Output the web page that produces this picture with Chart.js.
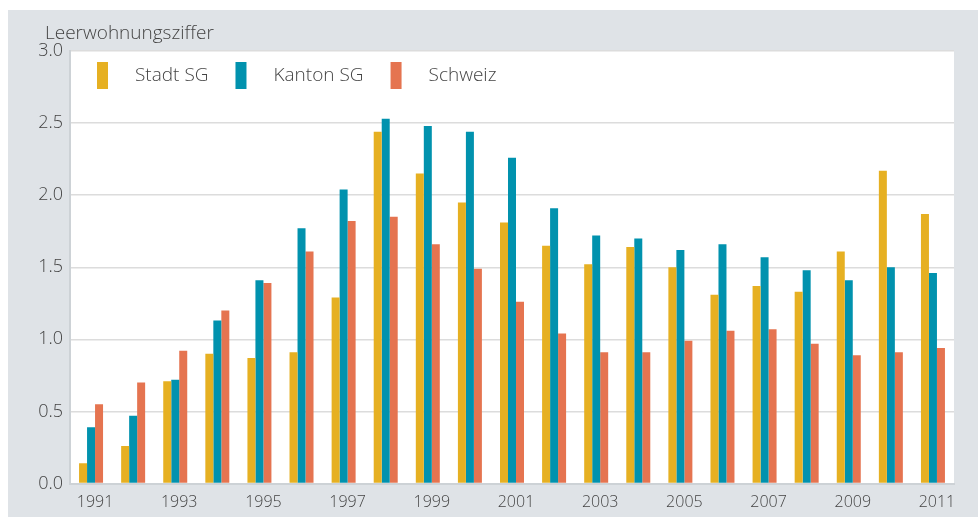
<!DOCTYPE html>
<html>
<head>
<meta charset="utf-8">
<script src="https://cdn.jsdelivr.net/npm/chart.js@4/dist/chart.umd.min.js"></script>
<style>
  html, body { margin: 0; padding: 0; background: #fff; }
  #wrap { position: absolute; left: 8px; top: 10px; width: 970px; height: 507px; background: #dfe3e7; }
</style>
</head>
<body>
<div id="wrap"><canvas id="c" width="970" height="507"></canvas></div>
<script>
// Leerwohnungsziffer 1991-2011
const years = ['1991','1992','1993','1994','1995','1996','1997','1998','1999','2000',
               '2001','2002','2003','2004','2005','2006','2007','2008','2009','2010','2011'];
const stadtSG  = [0.14, 0.26, 0.71, 0.90, 0.87, 0.91, 1.29, 2.44, 2.15, 1.95,
                  1.81, 1.65, 1.52, 1.64, 1.50, 1.31, 1.37, 1.33, 1.61, 2.17, 1.87];
const kantonSG = [0.39, 0.47, 0.72, 1.13, 1.41, 1.77, 2.04, 2.53, 2.48, 2.44,
                  2.26, 1.91, 1.72, 1.70, 1.62, 1.66, 1.57, 1.48, 1.41, 1.50, 1.46];
const schweiz  = [0.55, 0.70, 0.92, 1.20, 1.39, 1.61, 1.82, 1.85, 1.66, 1.49,
                  1.26, 1.04, 0.91, 0.91, 0.99, 1.06, 1.07, 0.97, 0.89, 0.91, 0.94];
const seriesNames = ['Stadt SG', 'Kanton SG', 'Schweiz'];
const seriesColors = ['#e6b022', '#0192ae', '#e57450'];
const axisTitle = 'Leerwohnungsziffer';

const FONT = '"Open Sans", sans-serif';
const TXT = '#444';

// white plot area + custom legend and axis title
const framePlugin = {
    id: 'frame',
    beforeDraw(chart) {
        const {ctx, chartArea: a} = chart;
        ctx.save();
        ctx.fillStyle = '#fff';
        ctx.fillRect(a.left, a.top, a.right - a.left, a.bottom - a.top);
        ctx.restore();
    },
    afterDraw(chart) {
        const {ctx, chartArea: a} = chart;
        ctx.save();
        ctx.fillStyle = TXT;
        ctx.font = '300 19px ' + FONT;
        ctx.textBaseline = 'alphabetic';
        ctx.textAlign = 'left';
        ctx.fillText(axisTitle, 37, 29);
        // legend
        let x = a.left + 27;
        const y = a.top + 11;
        ctx.textBaseline = 'middle';
        chart.data.datasets.forEach(ds => {
            ctx.fillStyle = ds.backgroundColor;
            ctx.fillRect(x, y, 11, 27);
            ctx.fillStyle = TXT;
            ctx.fillText(ds.label, x + 38, y + 14);
            x += 38 + ctx.measureText(ds.label).width + 27;
        });
        ctx.restore();
    }
};

new Chart(document.getElementById('c').getContext('2d'), {
    type: 'bar',
    data: {
        labels: years,
        datasets: [stadtSG, kantonSG, schweiz].map((d, i) => ({
            label: seriesNames[i],
            data: d,
            backgroundColor: seriesColors[i],
            barPercentage: 1,
            categoryPercentage: 0.57
        }))
    },
    options: {
        responsive: false,
        animation: false,
        layout: { padding: { top: 41, right: 24, left: 0, bottom: 0 } },
        plugins: { legend: { display: false }, tooltip: { enabled: false } },
        scales: {
            x: {
                grid: { display: false, drawTicks: false },
                border: { color: '#cdd2d6', width: 2 },
                ticks: {
                    autoSkip: false, maxRotation: 0, padding: 9, labelOffset: 4,
                    color: TXT, font: { family: FONT, size: 16, weight: 300 },
                    callback: (v, i) => (i % 2 === 0 ? years[i] : '')
                },
                afterFit(s) { s.height = 33.5; }
            },
            y: {
                min: 0, max: 3,
                grid: { color: '#dcdcdc', lineWidth: 1.5, drawTicks: false },
                border: { color: '#cdd2d6', width: 2 },
                ticks: {
                    stepSize: 0.5, padding: 7,
                    color: TXT, font: { family: FONT, size: 18, weight: 300 },
                    callback: v => v.toFixed(1)
                },
                afterFit(s) { s.width = 62; }
            }
        }
    },
    plugins: [framePlugin]
});
</script>
</body>
</html>
